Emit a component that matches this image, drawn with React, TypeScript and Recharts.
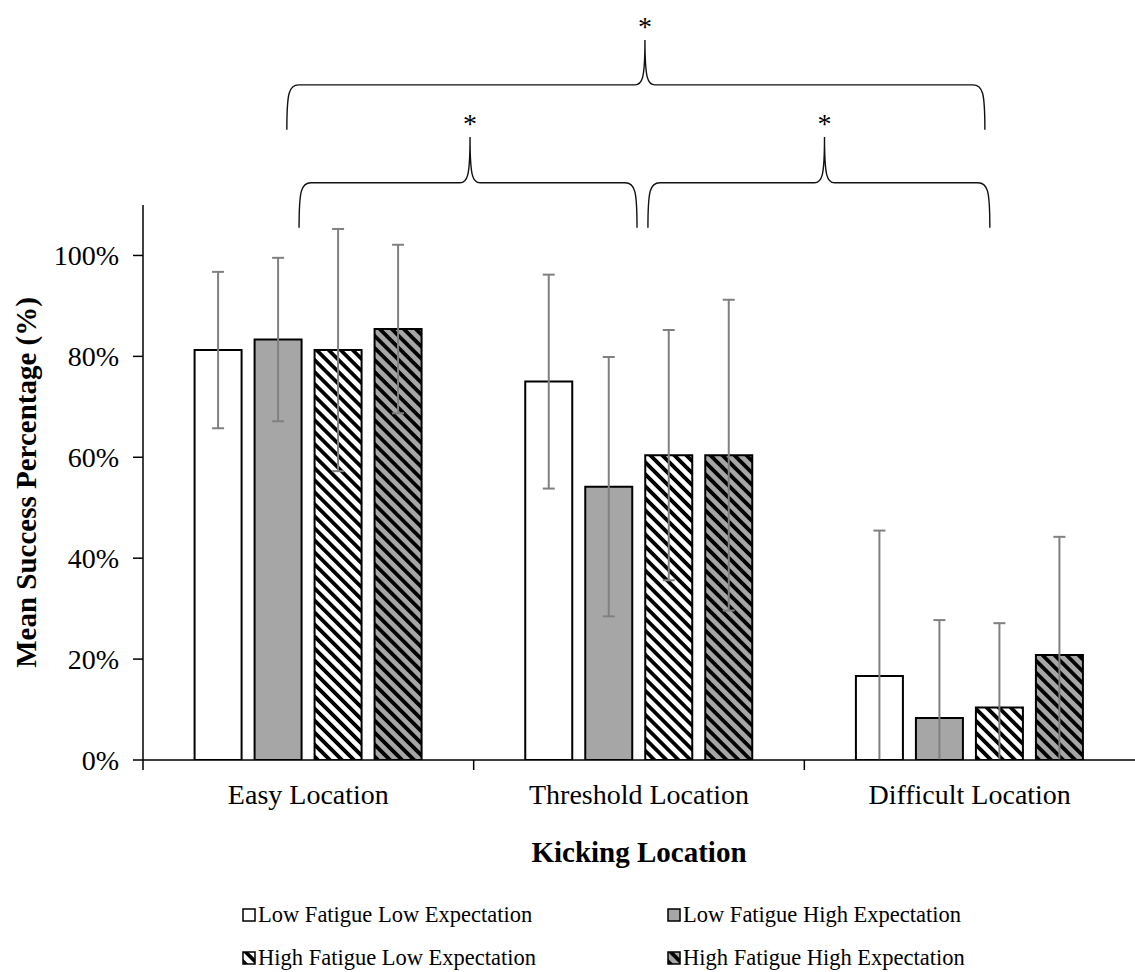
import { BarChart, Bar, XAxis, YAxis, ErrorBar } from 'recharts';

// data (mean success %, error = SD %)
const categories = ['Easy Location', 'Threshold Location', 'Difficult Location'];
const seriesNames = [
  'Low Fatigue Low Expectation',
  'Low Fatigue High Expectation',
  'High Fatigue Low Expectation',
  'High Fatigue High Expectation',
];
const lowFatLowExp = [81.25, 75.0, 16.67];
const lowFatHighExp = [83.33, 54.17, 8.33];
const highFatLowExp = [81.25, 60.42, 10.42];
const highFatHighExp = [85.42, 60.42, 20.83];
const lowFatLowExpErr = [15.5, 21.2, 28.8];
const lowFatHighExpErr = [16.2, 25.7, 19.4];
const highFatLowExpErr = [24.0, 24.8, 16.7];
const highFatHighExpErr = [16.7, 30.8, 23.4];
const yTicks = [0, 20, 40, 60, 80, 100];

const data = categories.map((name, i) => ({
  name,
  s1: lowFatLowExp[i], e1: lowFatLowExpErr[i],
  s2: lowFatHighExp[i], e2: lowFatHighExpErr[i],
  s3: highFatLowExp[i], e3: highFatLowExpErr[i],
  s4: highFatHighExp[i], e4: highFatHighExpErr[i],
}));

const W = 1135;
const H = 972;
const PLOT_LEFT = 143;
const PLOT_TOP = 205;
const PLOT_BOTTOM = 760;
const X_AXIS_H = 50;
const Y_MAX = 110;
const BAND = (W - PLOT_LEFT) / categories.length;
const FONT = '"Liberation Serif", "Times New Roman", serif';
const GRAY = '#a6a6a6';

const fills = ['#ffffff', GRAY, 'url(#stripeWhite)', 'url(#stripeGray)'];

// plot helpers for annotations
const px = (f: number) => PLOT_LEFT + f * BAND;
const py = (v: number) => PLOT_BOTTOM - (v / Y_MAX) * (PLOT_BOTTOM - PLOT_TOP);

// significance braces: start, tip, end (in band units), line/ends/tip levels (in %)
const braces = [
  { x1: 0.435, xm: 1.518, x2: 2.546, yl: 133.8, yb: 124.9, yt: 142.7 },
  { x1: 0.472, xm: 0.989, x2: 1.494, yl: 114.4, yb: 105.5, yt: 123.5 },
  { x1: 1.527, xm: 2.061, x2: 2.561, yl: 114.4, yb: 105.5, yt: 123.5 },
];

const bracePath = (b: typeof braces[0]) => {
  const x1 = px(b.x1), x2 = px(b.x2), xm = px(b.xm);
  const yl = py(b.yl), yb = py(b.yb), yt = py(b.yt);
  return `M${x1},${yb} C${x1},${yl + 8} ${x1 + 2},${yl} ${x1 + 12},${yl} L${xm - 10},${yl} C${xm - 3},${yl} ${xm},${yl - 5} ${xm},${yt}` +
    ` M${xm},${yt} C${xm},${yl - 5} ${xm + 3},${yl} ${xm + 10},${yl} L${x2 - 12},${yl} C${x2 - 2},${yl} ${x2},${yl + 8} ${x2},${yb}`;
};

const XTick = (props: any) => {
  const { x, payload } = props;
  const edge = x - BAND / 2;
  return (
    <g>
      <line x1={edge} x2={edge} y1={PLOT_BOTTOM} y2={PLOT_BOTTOM + 10} stroke="#000" strokeWidth={1.5} />
      <text x={x} y={PLOT_BOTTOM + 44} textAnchor="middle" fontFamily={FONT} fontSize={28} fill="#000">
        {payload.value}
      </text>
    </g>
  );
};

const Swatch = ({ fill }: { fill: string }) => (
  <svg width={14} height={14} style={{ display: 'block' }}>
    <rect x={1} y={1} width={12} height={12} fill={fill} stroke="#000" strokeWidth={1.5} />
  </svg>
);

const LegendBox = () => (
  <div style={{ display: 'grid', gridTemplateColumns: '425px 420px', rowGap: 17, fontFamily: FONT, fontSize: 22.5, color: '#000' }}>
    {seriesNames.map((n, i) => (
      <div key={n} style={{ display: 'flex', alignItems: 'center', gap: 2, height: 26 }}>
        <Swatch fill={fills[i]} />
        <span>{n}</span>
      </div>
    ))}
  </div>
);

export default function App() {
  return (
    <div style={{ position: 'absolute', left: 0, top: 0, width: W, height: H, background: '#fff' }}>
      <style>{`.recharts-errorBar, .recharts-errorBars { clip-path: url(#plotClip); }`}</style>
      <svg width={0} height={0} style={{ position: 'absolute' }}>
        <defs>
          <clipPath id="plotClip" clipPathUnits="userSpaceOnUse">
            <rect x={0} y={0} width={W} height={PLOT_BOTTOM} />
          </clipPath>
          <pattern id="stripeWhite" patternUnits="userSpaceOnUse" width={8.5} height={8.5} patternTransform="rotate(-45)">
            <rect width={8.5} height={8.5} fill="#fff" />
            <rect width={3.8} height={8.5} fill="#000" />
          </pattern>
          <pattern id="stripeGray" patternUnits="userSpaceOnUse" width={8.5} height={8.5} patternTransform="rotate(-45)">
            <rect width={8.5} height={8.5} fill={GRAY} />
            <rect width={3.8} height={8.5} fill="#000" />
          </pattern>
        </defs>
      </svg>
      <BarChart
        width={W}
        height={H}
        data={data}
        margin={{ top: PLOT_TOP, right: 0, left: 0, bottom: H - PLOT_BOTTOM - X_AXIS_H }}
        barCategoryGap="15.6%"
        barGap={13}
      >
        <XAxis
          dataKey="name"
          height={X_AXIS_H}
          axisLine={{ stroke: '#000', strokeWidth: 1.5 }}
          tickLine={false}
          tick={<XTick />}
          interval={0}
        />
        <YAxis
          width={PLOT_LEFT}
          domain={[0, Y_MAX]}
          ticks={yTicks}
          allowDataOverflow
          tickFormatter={(v: number) => `${v}%`}
          axisLine={{ stroke: '#000', strokeWidth: 1.5 }}
          tickLine={{ stroke: '#000', strokeWidth: 1.5 }}
          tickSize={10}
          tickMargin={14}
          tick={{ fontFamily: FONT, fontSize: 28, fill: '#000' }}
        />
        {['s1', 's2', 's3', 's4'].map((k, i) => (
          <Bar key={k} dataKey={k} name={seriesNames[i]} fill={fills[i]} stroke="#000" strokeWidth={2} isAnimationActive={false}>
            <ErrorBar dataKey={`e${i + 1}`} width={6} stroke="#808080" strokeWidth={2} />
          </Bar>
        ))}
      </BarChart>
      <div style={{ position: 'absolute', left: 242, top: 902, width: 880 }}>
        <LegendBox />
      </div>
      <svg width={W} height={H} style={{ position: 'absolute', left: 0, top: 0, pointerEvents: 'none' }}>
        {braces.map((b, i) => (
          <g key={i}>
            <path d={bracePath(b)} fill="none" stroke="#111" strokeWidth={1.4} />
            <text x={px(b.xm)} y={py(b.yt) - 4} textAnchor="middle" fontFamily={FONT} fontSize={28} fill="#000">*</text>
          </g>
        ))}
        <text x={(PLOT_LEFT + W) / 2} y={862} textAnchor="middle" fontFamily={FONT} fontSize={29} fontWeight="bold" fill="#000">
          Kicking Location
        </text>
        <text
          transform={`translate(36, ${(PLOT_TOP + PLOT_BOTTOM) / 2}) rotate(-90)`}
          textAnchor="middle"
          fontFamily={FONT}
          fontSize={29}
          fontWeight="bold"
          fill="#000"
        >
          Mean Success Percentage (%)
        </text>
      </svg>
    </div>
  );
}
